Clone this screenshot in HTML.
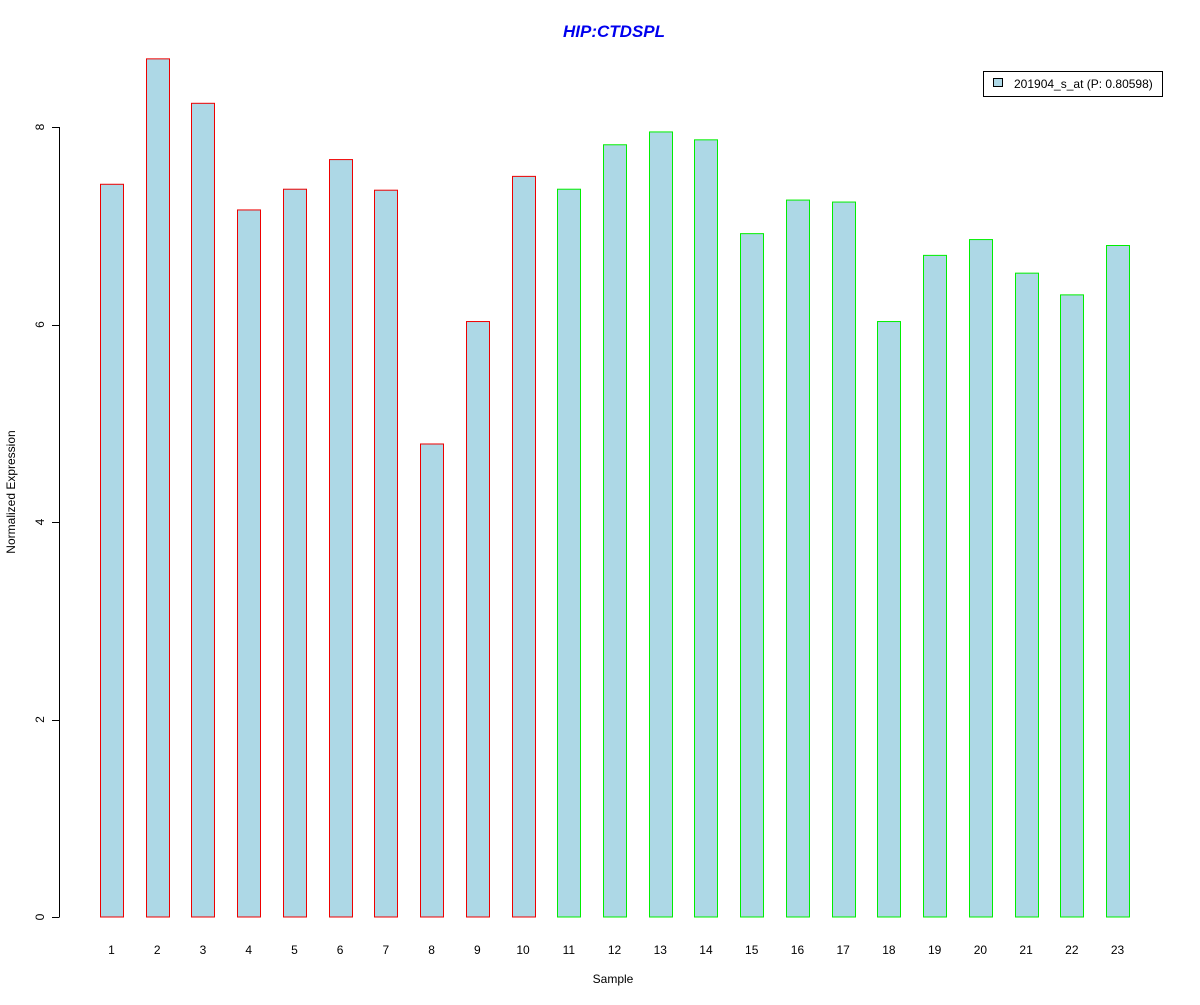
<!DOCTYPE html>
<html><head><meta charset="utf-8"><style>
body{margin:0;background:#fff}
svg text{font-family:"Liberation Sans",Arial,sans-serif}
</style></head><body>
<svg id="chart" width="1200" height="1000" xmlns="http://www.w3.org/2000/svg">
<rect width="1200" height="1000" fill="#fff"/>
<text x="614" y="37" text-anchor="middle" font-size="17" font-weight="bold" font-style="italic" fill="#0000ee">HIP:CTDSPL</text>
<text x="613" y="983" text-anchor="middle" font-size="12">Sample</text>
<text transform="translate(15,492) rotate(-90)" text-anchor="middle" font-size="12">Normalized Expression</text>
<g id="yaxis"></g>
<g id="bars"></g>
<g id="xlabels"></g>
<g>
<rect x="983.5" y="71.5" width="179" height="25" fill="#fff" stroke="#000"/>
<rect x="993.5" y="78.5" width="9" height="8" fill="#add8e6" stroke="#000"/>
<text x="1014" y="88" font-size="12">201904_s_at (P: 0.80598)</text>
</g>
</svg>
<script>
const categories=["1","2","3","4","5","6","7","8","9","10","11","12","13","14","15","16","17","18","19","20","21","22","23"];
const values=[7.42,8.69,8.24,7.16,7.37,7.67,7.36,4.79,6.03,7.50,7.37,7.82,7.95,7.87,6.92,7.26,7.24,6.03,6.70,6.86,6.52,6.30,6.80];
const groups=["a","a","a","a","a","a","a","a","a","a","b","b","b","b","b","b","b","b","b","b","b","b","b"];
const yTicks=[0,2,4,6,8];
const NS="http://www.w3.org/2000/svg";
const y=v=>917-v*98.75;
const xc=i=>111.5+i*45.73;
const ya=document.getElementById('yaxis');
function mk(tag,attrs,parent){const e=document.createElementNS(NS,tag);for(const k in attrs)e.setAttribute(k,attrs[k]);parent.appendChild(e);return e;}
const axl=mk('line',{x1:59.5,x2:59.5,y1:y(yTicks[0]),y2:y(yTicks[yTicks.length-1]),stroke:'#000'},ya);


yTicks.forEach(t=>{
 const tk=mk('line',{x1:52,x2:59.5,y1:Math.round(y(t))+0.5,y2:Math.round(y(t))+0.5,stroke:'#000'},ya);
 
 
 const tx=mk('text',{transform:`translate(44,${y(t)}) rotate(-90)`,'text-anchor':'middle','font-size':12},ya);
 tx.textContent=t;
 
 
});
const bg=document.getElementById('bars'),xl=document.getElementById('xlabels');
values.forEach((v,i)=>{
 const b=mk('rect',{x:Math.round(xc(i)-11.5)+0.5,y:y(v),width:23,height:y(0)-y(v),fill:'#add8e6',stroke:groups[i]==='a'?'#ee0000':'#00ee00'},bg);
 
 
 const t=mk('text',{x:xc(i),y:954,'text-anchor':'middle','font-size':12},xl);
 t.textContent=categories[i];
 
 
});
</script>
</body></html>
